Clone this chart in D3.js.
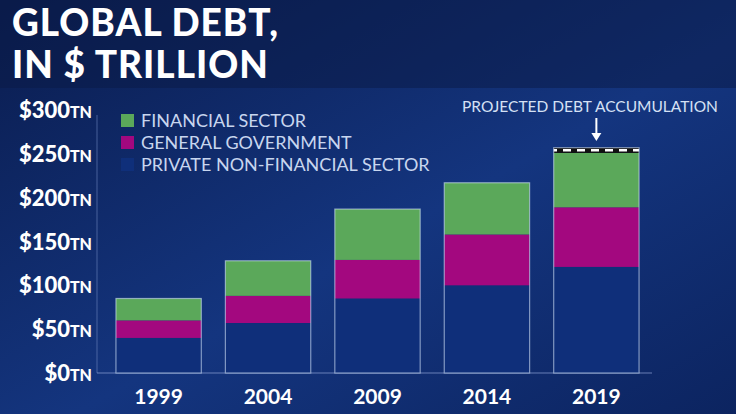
<!DOCTYPE html>
<html><head><meta charset="utf-8">
<script src="https://cdn.jsdelivr.net/npm/d3@7"></script>
<style>body{margin:0;background:#0b1f55;overflow:hidden}</style>
</head><body>
<svg id="c" width="736" height="414"></svg>
<script>
const years = ['1999', '2004', '2009', '2014', '2019'];
const privateNonFin = [40, 57, 85, 100, 121];
const government = [20, 31, 44, 58, 68];
const financial = [25, 40, 58, 59, 62];
const projected = [0, 0, 0, 0, 6];
const tickValues = [0, 50, 100, 150, 200, 250, 300];
const legendLabels = ['FINANCIAL SECTOR', 'GENERAL GOVERNMENT', 'PRIVATE NON-FINANCIAL SECTOR'];
const colors = ['#5ba85a', '#a3087f', '#0f2f7a'];

const svg = d3.select('#c');
const defs = svg.append('defs');
const bg = defs.append('linearGradient').attr('id', 'bg')
    .attr('x1', 0).attr('y1', 0).attr('x2', 1).attr('y2', 1);
bg.append('stop').attr('offset', 0).attr('stop-color', '#0a1c4e');
bg.append('stop').attr('offset', 0.55).attr('stop-color', '#14357f');
bg.append('stop').attr('offset', 1).attr('stop-color', '#0c2460');
svg.append('rect').attr('width', 736).attr('height', 414).attr('fill', 'url(#bg)');
const hatch = defs.append('pattern').attr('id', 'hatch').attr('patternUnits', 'userSpaceOnUse')
    .attr('width', 14).attr('height', 7);
hatch.append('rect').attr('width', 14).attr('height', 7).attr('fill', '#111');
hatch.append('rect').attr('x', 3).attr('y', 2).attr('width', 8).attr('height', 2.5).attr('fill', '#fff');

// title strip
svg.append('rect').attr('x', 0).attr('y', 0).attr('width', 736).attr('height', 88).attr('fill', '#0a1a45').attr('opacity', 0.5);
svg.append('text').attr('x', 12).attr('y', 36).text('GLOBAL DEBT,')
    .attr('fill', '#fff').attr('font-family', 'Lato').attr('font-weight', 900).attr('font-size', 37).attr('letter-spacing', 1);
svg.append('text').attr('x', 12).attr('y', 78).text('IN $ TRILLION')
    .attr('fill', '#fff').attr('font-family', 'Lato').attr('font-weight', 900).attr('font-size', 37).attr('letter-spacing', 1);

const y = d3.scaleLinear().domain([0, 300]).range([373, 110]);
const x = d3.scaleBand().domain(years).range([105, 650]).paddingInner(0.22).paddingOuter(0.1);

// frame
svg.append('line').attr('x1', 97).attr('x2', 97).attr('y1', 115).attr('y2', 373).attr('stroke', '#6f86c0').attr('stroke-opacity', 0.6);
svg.append('line').attr('x1', 97).attr('x2', 652).attr('y1', 373).attr('y2', 373).attr('stroke', '#8fa3d6').attr('stroke-opacity', 0.7);

const axis = svg.append('g').attr('transform', 'translate(92,0)')
    .call(d3.axisLeft(y).tickValues(tickValues).tickSize(0).tickPadding(0).tickFormat(() => ''));
axis.select('.domain').remove();
axis.selectAll('.tick').each(function(d) {
  const t = d3.select(this).append('text').attr('text-anchor', 'end').attr('dy', '0.36em')
      .attr('y', 4).attr('fill', '#fff').attr('font-family', 'Lato').attr('font-weight', 900);
  t.append('tspan').attr('font-size', 22).text('$' + d);
  t.append('tspan').attr('font-size', 16).text('TN');
});

const stackData = years.map((yr, i) => ({year: yr, p: privateNonFin[i], g: government[i], f: financial[i], h: projected[i]}));
const series = d3.stack().keys(['p', 'g', 'f', 'h'])(stackData);
const fills = {p: colors[2], g: colors[1], f: colors[0], h: 'url(#hatch)'};
svg.append('g').selectAll('g').data(series).join('g').attr('fill', s => fills[s.key])
  .selectAll('rect').data(s => s).join('rect')
    .attr('x', d => x(d.data.year)).attr('width', x.bandwidth())
    .attr('y', d => y(d[1])).attr('height', d => y(d[0]) - y(d[1]));
svg.append('g').selectAll('rect').data(stackData).join('rect')
    .attr('x', d => x(d.year)).attr('width', x.bandwidth())
    .attr('y', d => y(d.p + d.g + d.f + d.h)).attr('height', d => y(0) - y(d.p + d.g + d.f + d.h))
    .attr('fill', 'none').attr('stroke', '#cfe0f5').attr('stroke-opacity', 0.6).attr('stroke-width', 1.2);

svg.append('g').selectAll('text').data(years).join('text')
    .attr('x', d => x(d) + x.bandwidth() / 2).attr('y', 404).attr('text-anchor', 'middle')
    .attr('fill', '#fff').attr('font-family', 'Lato').attr('font-weight', 700).attr('font-size', 21).text(d => d);

// legend
const lg = svg.append('g').selectAll('g').data(legendLabels).join('g')
    .attr('transform', (d, i) => `translate(121,${114 + i * 22})`);
lg.append('rect').attr('width', 13).attr('height', 13).attr('fill', (d, i) => colors[i]);
lg.append('text').attr('x', 20).attr('y', 13).attr('fill', '#c8d6ef').attr('font-family', 'Lato')
    .attr('font-size', 18).text(d => d);

// annotation
const cx = x('2019') + x.bandwidth() / 2;
svg.append('text').attr('x', 590).attr('y', 112).attr('text-anchor', 'middle')
    .attr('fill', '#d5e1f5').attr('font-family', 'Lato').attr('font-size', 15.5).text('PROJECTED DEBT ACCUMULATION');
svg.append('line').attr('x1', cx).attr('x2', cx).attr('y1', 118).attr('y2', 135).attr('stroke', '#fff').attr('stroke-width', 2);
svg.append('path').attr('d', `M${cx - 5},133L${cx + 5},133L${cx},141Z`).attr('fill', '#fff');
</script>
</body></html>
